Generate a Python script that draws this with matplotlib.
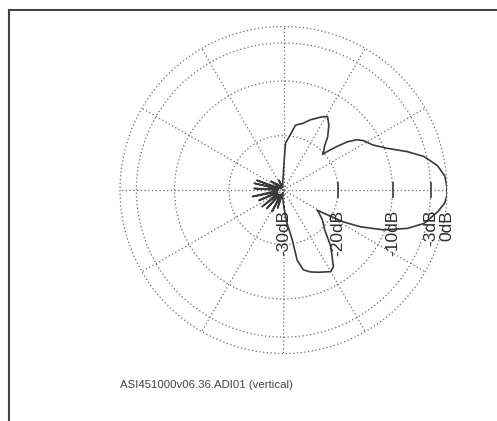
import numpy as np
import matplotlib.pyplot as plt
from matplotlib.lines import Line2D

plt.rcParams['font.family'] = ['Liberation Sans', 'DejaVu Sans']

# vertical radiation pattern, angle in degrees, level in dB (clipped at -30)
angle_deg = [-89, -84, -80, -79, -76, -72, -67, -62, -60, -57, -54, -50, -44, -38,
             -33, -31, -28, -25.5, -21.7, -17.2, -13.4, -8, -4.5, -2, 1, 5, 9,
             13.4, 17.2, 21.9, 26.9, 31.5, 34.5, 37, 39, 41, 42.5, 44, 46.6, 50.3,
             55, 59, 61, 63, 69, 74, 79.5, 83, 87.5, 89, 92,
             95, 105, 115, 125, 135, 145, 152, 160, 164, 167, 171, 177, 183, 192,
             197, 203, 208, 218, 223, 228, 235, 242, 248, 252, 258, 265, 271]
level_db = [-26.9, -23.9, -20.7, -16.9, -14.9, -14.2, -13.6, -13.0, -12.7, -13.2,
            -14.8, -16.5, -19.5, -20.9, -22.2, -22.8, -17.5, -14.3, -10.2, -6.2,
            -3.5, -1.4, -0.3, 0.0, 0.0, -0.3, -1.4, -3.5, -6.2, -9.5, -11.7, -12.7,
            -13.7, -15.3, -17.2, -19.0, -20.3, -19.7, -19.1, -17.3, -15.5, -14.3,
            -14.6, -15.0, -16.2, -17.3, -17.9, -19.8, -21.4, -25.1, -27.8,
            -28.5, -29.5, -28.0, -29.5, -28.5, -27.2, -29.5, -24.8, -29.0, -24.5,
            -29.0, -24.6, -29.0, -24.2, -28.8, -25.1, -28.8, -25.0, -28.8, -25.4,
            -29.0, -25.5, -29.0, -26.5, -29.5, -28.5, -27.0]

ring_db = [-20, -10, -3]
mark_db = [-20, -10, -3]
label_db = [-30, -20, -10, -3, 0]
label_txt = ['-30dB', '-20dB', '-10dB', '-3dB', '0dB']
caption = 'ASI451000v06.36.ADI01 (vertical)'

grid_style = dict(color='#6a6a6a', ls=(0, (1, 2)), lw=0.9)

fig = plt.figure(figsize=(4.97, 4.21), dpi=100)
ax = fig.add_axes([120 / 497, 67.5 / 421, 327 / 497, 327 / 421], projection='polar')

theta = np.radians(angle_deg + [angle_deg[0] + 360])
r = level_db + [level_db[0]]
ax.plot(theta, r, color='#3a3a3a', lw=1.2)

ax.set_rlim(-30, 0)
ax.set_rgrids(ring_db, labels=[])
ax.set_thetagrids(np.arange(0, 360, 30), labels=[])
ax.grid(True, **grid_style)
ax.spines['polar'].set_visible(False)
ax.tick_params(length=0)

# outer 0 dB ring drawn explicitly so it is not clipped at the edge
ring = np.linspace(0, 2 * np.pi, 361)
ax.plot(ring, np.zeros_like(ring), clip_on=False, **grid_style)

ax.plot(np.zeros(len(mark_db)), mark_db, ls='', marker='|', ms=12, mew=1.4, color='#555555')

for db, txt in zip(label_db, label_txt):
    ax.annotate(txt, xy=(0, db), xytext=(0, -20), textcoords='offset pixels',
                rotation=90, ha='center', va='top', fontsize=12.5, color='#2e2e2e')

fig.text(120 / 497, 1 - 385 / 421, caption, fontsize=8.2, color='#444444', va='center')

# page frame (top and left edges)
fig.add_artist(Line2D([8.5 / 497, 1], [1 - 9.5 / 421] * 2, color='#444444', lw=1.5))
fig.add_artist(Line2D([8.5 / 497] * 2, [0, 1 - 9.5 / 421], color='#444444', lw=1.5))

fig.savefig('out.png', dpi=100, facecolor='white')
